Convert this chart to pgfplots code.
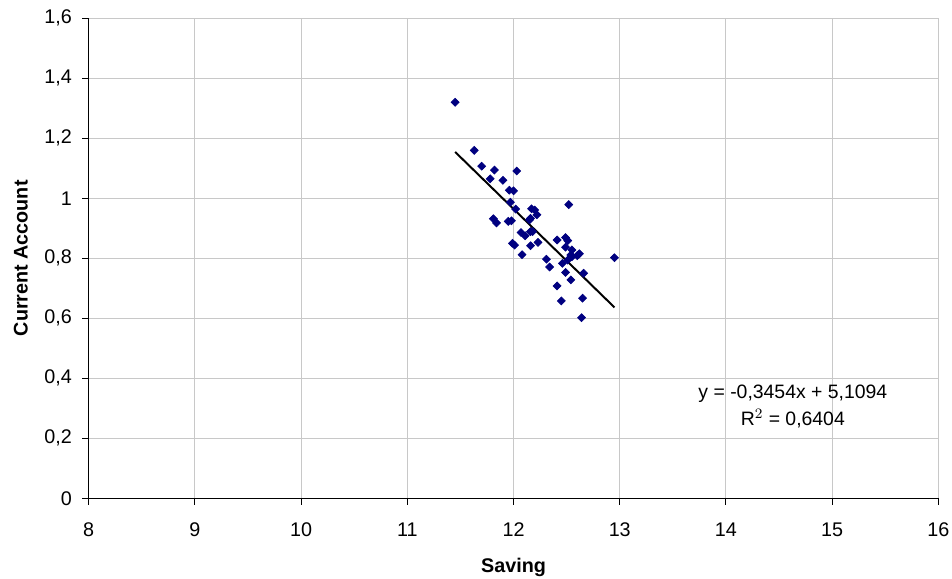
\documentclass[border=0pt]{standalone}
\usepackage{pgfplots}
\pgfplotsset{compat=1.18}
\usepackage{fontspec}
\setmainfont{Liberation Sans}
\definecolor{navy}{HTML}{000080}
\definecolor{gridc}{HTML}{C8C8C8}
\begin{document}
\begin{tikzpicture}
\path[use as bounding box] (-49.4pt,-44.4pt) rectangle (480.6pt,277.4pt);
\begin{axis}[
  scale only axis,
  width=473pt, height=267.2pt,
  xmin=8, xmax=16, ymin=0, ymax=1.6,
  xtick={8,9,...,16},
  ytick={0,0.2,...,1.6},
  axis x line*=bottom, axis y line*=left,
  axis line style={black, line width=0.6pt},
  grid=major,
  major grid style={gridc, line width=0.6pt},
  tick align=outside,
  major tick length=3.6pt,
  tick style={black, line width=0.6pt},
  /pgf/number format/assume math mode=true,
  /pgf/number format/use comma,
  /pgf/number format/fixed,
  yticklabel style={/pgf/number format/precision=1, xshift=-2.2pt},
  xticklabel style={yshift=-6.5pt},
  ticklabel style={font=\fontsize{11}{13}\selectfont},
  xlabel={\textbf{Saving}},
  ylabel={\textbf{Current Account}},
  label style={font=\fontsize{11}{13}\selectfont},
  xlabel style={at={(axis description cs:0.5,-0.1445)}, anchor=center},
  ylabel style={at={(axis description cs:-0.0799,0.5)}, anchor=center},
  clip=false,
]
\addplot[only marks, mark=square*, mark size=1.55pt, mark options={rotate=45, navy, fill=navy}] coordinates {
(11.45,1.320) (11.63,1.160) (11.70,1.107) (11.82,1.094) (12.03,1.091)
(11.78,1.065) (11.90,1.060) (11.96,1.027) (12.00,1.025) (11.97,0.987)
(12.02,0.964) (12.17,0.965) (12.20,0.961) (12.22,0.945) (11.81,0.932)
(11.84,0.918) (11.95,0.923) (11.98,0.925) (12.15,0.928) (12.16,0.933)
(12.07,0.886) (12.11,0.875) (11.99,0.850) (12.01,0.844) (12.08,0.812)
(12.16,0.889) (12.18,0.889) (12.16,0.842) (12.23,0.853) (12.41,0.861)
(12.31,0.797) (12.34,0.771) (12.41,0.708) (12.52,0.979) (12.49,0.869)
(12.51,0.859) (12.49,0.837) (12.55,0.828) (12.62,0.815) (12.54,0.811)
(12.95,0.802) (12.46,0.783) (12.51,0.794) (12.55,0.805) (12.60,0.809)
(12.49,0.753) (12.54,0.728) (12.66,0.750) (12.45,0.658) (12.65,0.667)
(12.64,0.602)
};
\addplot[black, line width=1.1pt, no marks] coordinates {(11.45,1.15457) (12.95,0.63647)};
\node[align=center, font=\fontsize{10.8}{15}\selectfont] at (axis cs:14.63,0.306)
  {y = -0,3454x + 5,1094\\R$^{2}$ = 0,6404};
\end{axis}
\end{tikzpicture}
\end{document}
